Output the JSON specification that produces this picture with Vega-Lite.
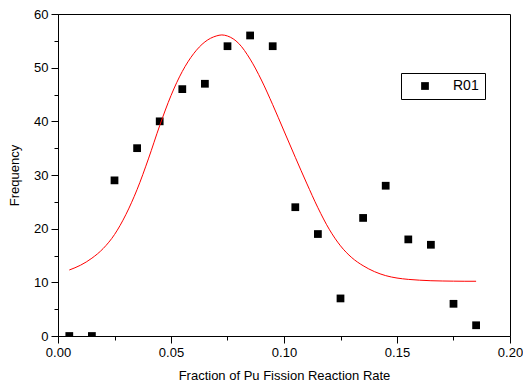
{
  "$schema": "https://vega.github.io/schema/vega-lite/v6.json",
  "width": 452,
  "height": 322,
  "autosize": "none",
  "padding": {"left": 58, "top": 14, "right": 13, "bottom": 53},
  "background": "white",
  "config": {
    "view": {"stroke": "black", "strokeWidth": 1},
    "axis": {
      "labelFont": "Liberation Sans",
      "titleFont": "Liberation Sans",
      "labelColor": "black",
      "titleColor": "black",
      "tickColor": "black",
      "domainColor": "black",
      "labelFontSize": 13,
      "titleFontSize": 13,
      "titleFontWeight": "normal",
      "grid": false
    },
    "legend": {"labelFont": "Liberation Sans", "labelFontSize": 14, "labelColor": "black"}
  },
  "datasets": {
    "pts": [
      {"x": 0.005, "freq": 0, "series": "R01"},
      {"x": 0.015, "freq": 0, "series": "R01"},
      {"x": 0.025, "freq": 29, "series": "R01"},
      {"x": 0.035, "freq": 35, "series": "R01"},
      {"x": 0.045, "freq": 40, "series": "R01"},
      {"x": 0.055, "freq": 46, "series": "R01"},
      {"x": 0.065, "freq": 47, "series": "R01"},
      {"x": 0.075, "freq": 54, "series": "R01"},
      {"x": 0.085, "freq": 56, "series": "R01"},
      {"x": 0.095, "freq": 54, "series": "R01"},
      {"x": 0.105, "freq": 24, "series": "R01"},
      {"x": 0.115, "freq": 19, "series": "R01"},
      {"x": 0.125, "freq": 7, "series": "R01"},
      {"x": 0.135, "freq": 22, "series": "R01"},
      {"x": 0.145, "freq": 28, "series": "R01"},
      {"x": 0.155, "freq": 18, "series": "R01"},
      {"x": 0.165, "freq": 17, "series": "R01"},
      {"x": 0.175, "freq": 6, "series": "R01"},
      {"x": 0.185, "freq": 2, "series": "R01"}
    ],
    "fit": [
      {"x": 0.005, "y": 12.3},
      {"x": 0.01, "y": 13.2},
      {"x": 0.015, "y": 14.5},
      {"x": 0.02, "y": 16.3},
      {"x": 0.025, "y": 18.9},
      {"x": 0.03, "y": 22.6},
      {"x": 0.035, "y": 27.3},
      {"x": 0.04, "y": 33.0},
      {"x": 0.045, "y": 39.2},
      {"x": 0.05, "y": 44.8},
      {"x": 0.055, "y": 49.3},
      {"x": 0.06, "y": 52.6},
      {"x": 0.065, "y": 54.8},
      {"x": 0.07, "y": 55.9},
      {"x": 0.0725, "y": 56.1},
      {"x": 0.075, "y": 55.9},
      {"x": 0.08, "y": 54.5},
      {"x": 0.085, "y": 51.6},
      {"x": 0.09, "y": 47.7},
      {"x": 0.095, "y": 43.1},
      {"x": 0.1, "y": 38.2},
      {"x": 0.105, "y": 33.3},
      {"x": 0.11, "y": 28.5},
      {"x": 0.115, "y": 23.9},
      {"x": 0.12, "y": 19.9},
      {"x": 0.125, "y": 16.8},
      {"x": 0.13, "y": 14.6},
      {"x": 0.135, "y": 13.1},
      {"x": 0.14, "y": 12.0},
      {"x": 0.145, "y": 11.25},
      {"x": 0.15, "y": 10.8},
      {"x": 0.155, "y": 10.55},
      {"x": 0.16, "y": 10.4},
      {"x": 0.165, "y": 10.3},
      {"x": 0.17, "y": 10.25},
      {"x": 0.175, "y": 10.22},
      {"x": 0.18, "y": 10.2},
      {"x": 0.185, "y": 10.2}
    ]
  },
  "layer": [
    {
      "data": {"name": "pts"},
      "mark": {"type": "point", "shape": "square", "filled": true, "size": 60, "opacity": 1, "clip": true},
      "encoding": {
        "x": {
          "field": "x", "type": "quantitative",
          "scale": {"domain": [0, 0.2], "nice": false, "zero": false},
          "axis": {"orient": "bottom", "title": "Fraction of Pu Fission Reaction Rate", "values": [0, 0.05, 0.1, 0.15, 0.2], "format": ".2f", "tickSize": 7, "labelPadding": 3, "titlePadding": 10, "labelFlush": false}
        },
        "y": {
          "field": "freq", "type": "quantitative",
          "scale": {"domain": [0, 60], "nice": false},
          "axis": {"orient": "left", "title": "Frequency", "values": [0, 10, 20, 30, 40, 50, 60], "tickSize": 7, "labelPadding": 3, "titlePadding": 12, "labelFlush": false}
        },
        "color": {
          "field": "series", "type": "nominal",
          "scale": {"range": ["black"]},
          "legend": {
            "title": null, "orient": "none", "legendX": 343, "legendY": 59,
            "strokeColor": "black", "fillColor": "white", "padding": 6,
            "symbolType": "square", "symbolSize": 60, "symbolOffset": 11, "labelOffset": 21,
            "symbolStrokeWidth": 0
          }
        }
      }
    },
    {
      "data": {"name": "fit"},
      "mark": {"type": "line", "color": "#ff0000", "strokeWidth": 1, "interpolate": "monotone"},
      "encoding": {
        "x": {
          "field": "x", "type": "quantitative",
          "axis": {"orient": "bottom", "title": null, "labels": false, "domain": false, "values": [0.025, 0.075, 0.125, 0.175], "tickSize": 4}
        },
        "y": {
          "field": "y", "type": "quantitative",
          "axis": {"orient": "left", "title": null, "labels": false, "domain": false, "values": [5, 15, 25, 35, 45, 55], "tickSize": 4}
        }
      }
    }
  ],
  "resolve": {"axis": {"x": "independent", "y": "independent"}}
}
